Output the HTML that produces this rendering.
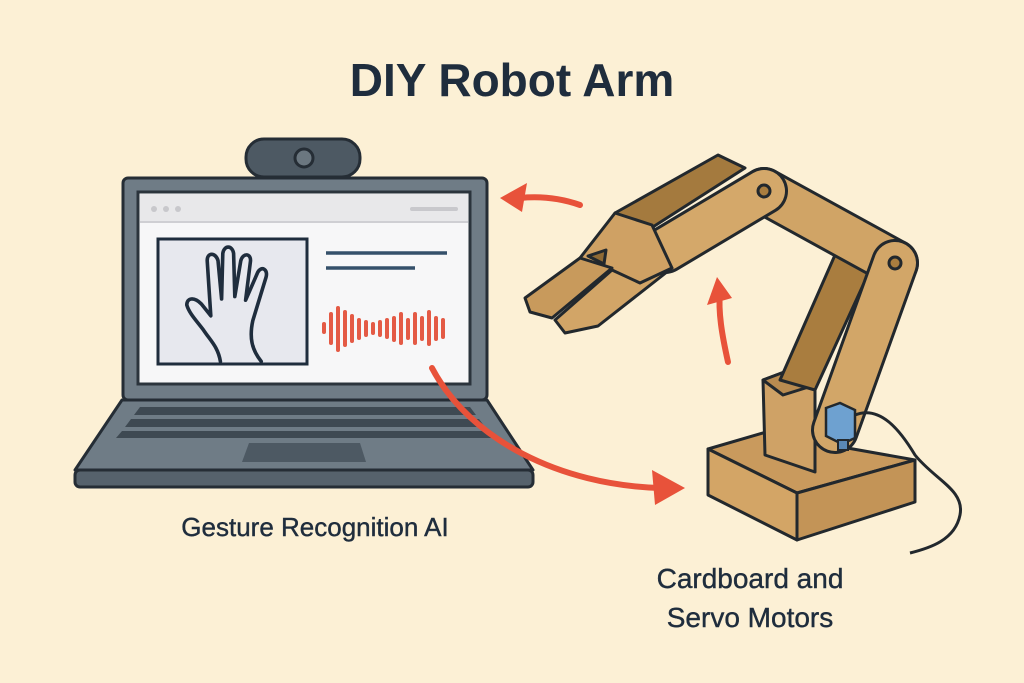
<!DOCTYPE html>
<html><head><style>
html,body{margin:0;padding:0;background:#fcf0d5}
svg{display:block}
text{font-family:"Liberation Sans",sans-serif;fill:#1f2d3d}
</style></head><body>
<svg width="1024" height="683" viewBox="0 0 1024 683">
<rect width="1024" height="683" fill="#fcf0d5"/>
<text x="512" y="96" font-size="46" font-weight="bold" text-anchor="middle">DIY Robot Arm</text>
<text x="315" y="536" font-size="26" text-anchor="middle" stroke="#1f2d3d" stroke-width="0.4">Gesture Recognition AI</text>
<text x="750" y="588" font-size="28" text-anchor="middle" stroke="#1f2d3d" stroke-width="0.4">Cardboard and</text>
<text x="750" y="627" font-size="28" text-anchor="middle" stroke="#1f2d3d" stroke-width="0.4">Servo Motors</text>

<!-- laptop -->
<rect x="246" y="139" width="114" height="38" rx="18" fill="#4d5963" stroke="#252d35" stroke-width="3"/>
<circle cx="304" cy="158" r="9" fill="#6b7780" stroke="#252d35" stroke-width="3"/>
<path d="M122 400 L487 400 L533 470 L75 470 Z" fill="#6f7c86" stroke="#252d35" stroke-width="3" stroke-linejoin="round"/>
<rect x="75" y="470" width="458" height="17" rx="5" fill="#56626c" stroke="#252d35" stroke-width="3"/>
<path d="M140 407 L470 407 L476 415 L134 415 Z" fill="#3e4952"/>
<path d="M131 419 L479 419 L485 427 L125 427 Z" fill="#3e4952"/>
<path d="M122 431 L488 431 L494 438 L116 438 Z" fill="#3e4952"/>
<path d="M249 443 L360 443 L366 462 L242 462 Z" fill="#4d5963"/>
<rect x="123" y="178" width="364" height="222" rx="5" fill="#6f7c86" stroke="#252d35" stroke-width="3"/>
<rect x="138" y="192" width="332" height="192" fill="#f7f7f8" stroke="#2b343c" stroke-width="3"/>
<rect x="140" y="194" width="328" height="28" fill="#e8e8ea"/>
<line x1="140" y1="222" x2="468" y2="222" stroke="#cfcfd3" stroke-width="2"/>
<circle cx="154" cy="209" r="3" fill="#c8c8cc"/><circle cx="166" cy="209" r="3" fill="#c8c8cc"/><circle cx="178" cy="209" r="3" fill="#c8c8cc"/>
<line x1="412" y1="209" x2="456" y2="209" stroke="#c8c8cc" stroke-width="4" stroke-linecap="round"/>
<rect x="158" y="239" width="149" height="125" fill="#e7e8ee" stroke="#1f2d3d" stroke-width="3"/>
<g transform="translate(230 305) scale(1.2) translate(-228 -305)">
<path d="M220 352 C218 340 212 335 206 326 C200 318 194 312 192 305 C192 299 198 298 204 304 L212 314 L209 268 C209 261 216 261 218 268 L221 300 L222 262 C223 255 230 255 231 262 L232 298 L237 268 C239 261 246 262 245 269 L241 301 L251 278 C254 272 260 275 258 282 L247 318 C244 332 246 342 254 352" fill="none" stroke="#1f2d3d" stroke-width="3" stroke-linecap="round" stroke-linejoin="round"/>
</g>
<line x1="326" y1="253" x2="447" y2="253" stroke="#35506a" stroke-width="3.5"/>
<line x1="326" y1="268" x2="415" y2="268" stroke="#35506a" stroke-width="3.5"/>
<g stroke="#e45a45" stroke-width="4" stroke-linecap="round">
<line x1="324" y1="324" x2="324" y2="332"/><line x1="331" y1="314" x2="331" y2="343"/><line x1="338" y1="308" x2="338" y2="350"/><line x1="345" y1="312" x2="345" y2="345"/><line x1="352" y1="316" x2="352" y2="341"/><line x1="359" y1="320" x2="359" y2="338"/><line x1="366" y1="322" x2="366" y2="335"/><line x1="373" y1="324" x2="373" y2="333"/><line x1="380" y1="322" x2="380" y2="335"/><line x1="387" y1="320" x2="387" y2="337"/><line x1="394" y1="318" x2="394" y2="340"/><line x1="401" y1="314" x2="401" y2="343"/><line x1="408" y1="320" x2="408" y2="338"/><line x1="415" y1="314" x2="415" y2="343"/><line x1="422" y1="318" x2="422" y2="339"/><line x1="429" y1="312" x2="429" y2="344"/><line x1="436" y1="318" x2="436" y2="339"/><line x1="443" y1="320" x2="443" y2="337"/>
</g>

<!-- arrows -->
<g fill="none" stroke="#e8523a" stroke-width="6" stroke-linecap="round">
<path d="M580 205 C560 198 540 196 520 198"/>
<path d="M728 362 C722 335 718 312 720 292"/>
<path d="M432 368 C470 440 560 485 660 488"/>
</g>
<g fill="#e8523a">
<path d="M500 198 L527 183 L522 212 Z"/>
<path d="M717 277 L707 305 L732 298 Z"/>
<path d="M685 488 L652 470 L655 505 Z"/>
</g>

<!-- robot -->
<g stroke="#22282d" stroke-width="3" stroke-linejoin="round">
<path d="M708 449 L763 433 L915 460 L797 493 Z" fill="#c99a5d"/>
<path d="M708 449 L797 493 L797 540 L708 495 Z" fill="#d3a566"/>
<path d="M797 493 L915 460 L915 502 L797 540 Z" fill="#c39457"/>
<!-- column -->
<path d="M763 380 L795 368 L815 385 L815 472 L765 455 Z" fill="#cfa266"/>
<path d="M763 380 L795 368 L815 385 L783 395 Z" fill="#b88b50"/>
<!-- back plate lower arm -->
<path d="M835 255 L870 270 L815 390 L780 380 Z" fill="#a97d3f"/>
<!-- elbow-shoulder bar -->
<line x1="764" y1="191" x2="895" y2="263" stroke="#22282d" stroke-width="48" stroke-linecap="round"/>
<line x1="764" y1="191" x2="895" y2="263" stroke="#d0a466" stroke-width="42" stroke-linecap="round"/>
<!-- lower arm front -->
<line x1="895" y1="263" x2="835" y2="430" stroke="#22282d" stroke-width="48" stroke-linecap="round"/>
<line x1="895" y1="263" x2="835" y2="430" stroke="#d2a668" stroke-width="42" stroke-linecap="round"/>
<!-- forearm back -->
<path d="M615 213 L718 155 L745 168 L645 232 Z" fill="#a47a3e"/>
<!-- forearm -->
<line x1="764" y1="191" x2="665" y2="250" stroke="#22282d" stroke-width="48" stroke-linecap="round"/>
<line x1="764" y1="191" x2="665" y2="250" stroke="#d4a86a" stroke-width="42" stroke-linecap="round"/>
<!-- gripper block -->
<path d="M615 213 L652 225 L672 268 L615 300 L580 258 Z" fill="#cfa164"/>
<!-- fingers -->
<path d="M580 258 L612 268 L552 318 L530 312 L525 298 Z" fill="#c89a5c"/>
<path d="M612 270 L640 283 L672 268 L598 326 L565 333 L555 320 Z" fill="#d2a567"/>
<path d="M588 256 L606 250 L604 264 Z" fill="#8f6a35"/>
</g>
<circle cx="764" cy="191" r="6" fill="#a97d3f" stroke="#22282d" stroke-width="3"/>
<circle cx="895" cy="263" r="6" fill="#a97d3f" stroke="#22282d" stroke-width="3"/>
<!-- servo -->
<path d="M826 408 L840 403 L855 410 L855 438 L842 444 L826 436 Z" fill="#6ea1d0" stroke="#22282d" stroke-width="2.5"/>
<rect x="838" y="440" width="10" height="10" fill="#5a88b5" stroke="#22282d" stroke-width="2"/>
<path d="M855 415 C880 405 900 430 915 455 C935 480 965 490 960 515 C955 540 930 548 910 553" fill="none" stroke="#22282d" stroke-width="3"/>
</svg>
</body></html>
